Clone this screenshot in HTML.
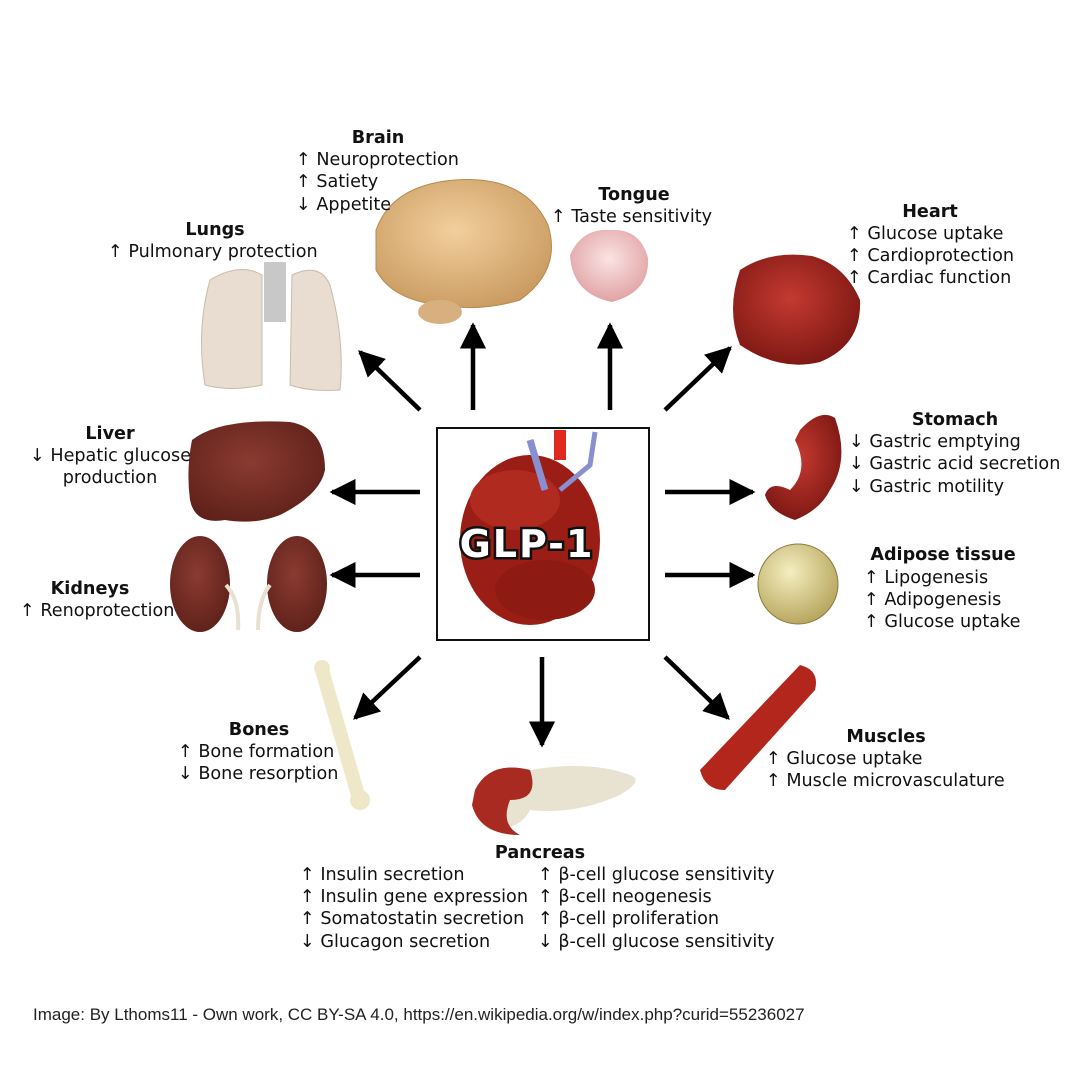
<!DOCTYPE html>
<html><head><meta charset="utf-8"><style>
html,body{margin:0;padding:0;background:#fff;}
svg{display:block}
.t{font-family:"DejaVu Sans",Verdana,sans-serif;font-size:17.6px;fill:#111}
.b{font-weight:bold;text-anchor:middle}
</style></head><body>
<svg width="1080" height="1080" viewBox="0 0 1080 1080" xmlns="http://www.w3.org/2000/svg">
<defs>
<marker id="ah" viewBox="0 0 10 10" refX="9" refY="5" markerWidth="5.8" markerHeight="5.8" orient="auto"><path d="M0,0 L10,5 L0,10 z" fill="#000"/></marker>
<radialGradient id="red" cx="45%" cy="40%" r="65%"><stop offset="0" stop-color="#c43a30"/><stop offset="1" stop-color="#7a1612"/></radialGradient>
<radialGradient id="liv" cx="45%" cy="40%" r="70%"><stop offset="0" stop-color="#8a3b30"/><stop offset="1" stop-color="#5a1e18"/></radialGradient>
<radialGradient id="fat" cx="40%" cy="35%" r="65%"><stop offset="0" stop-color="#f4eec0"/><stop offset="1" stop-color="#b9a860"/></radialGradient>
<radialGradient id="brn" cx="45%" cy="40%" r="65%"><stop offset="0" stop-color="#f2cf9c"/><stop offset="1" stop-color="#c99a60"/></radialGradient>
<radialGradient id="tng" cx="50%" cy="40%" r="60%"><stop offset="0" stop-color="#fbe3e3"/><stop offset="1" stop-color="#e0a2a4"/></radialGradient>
</defs>

<rect x="437" y="428" width="212" height="212" fill="#fff" stroke="#111" stroke-width="2"/>
<ellipse cx="530" cy="540" rx="70" ry="85" fill="#9b1e16"/>
<ellipse cx="515" cy="500" rx="45" ry="30" fill="#b12a20"/>
<ellipse cx="545" cy="590" rx="50" ry="30" fill="#8e1a14"/>
<path d="M530 440 L545 490" stroke="#8890d0" stroke-width="7"/>
<path d="M595 432 L590 465 L560 490" stroke="#8890d0" stroke-width="5" fill="none"/>
<rect x="554" y="430" width="12" height="30" fill="#e02a20"/>
<text x="527" y="557" font-family="DejaVu Sans,sans-serif" font-size="38" font-weight="bold" text-anchor="middle" fill="#fff" stroke="#111" stroke-width="5" paint-order="stroke" letter-spacing="2">GLP-1</text>

<g stroke="#000" stroke-width="4.5" marker-end="url(#ah)">
<line x1="420" y1="410" x2="360" y2="352"/>
<line x1="473" y1="410" x2="473" y2="325"/>
<line x1="610" y1="410" x2="610" y2="325"/>
<line x1="665" y1="410" x2="730" y2="348"/>
<line x1="420" y1="492" x2="332" y2="492"/>
<line x1="420" y1="575" x2="332" y2="575"/>
<line x1="665" y1="492" x2="753" y2="492"/>
<line x1="665" y1="575" x2="753" y2="575"/>
<line x1="420" y1="657" x2="355" y2="718"/>
<line x1="542" y1="657" x2="542" y2="745"/>
<line x1="665" y1="657" x2="728" y2="718"/>
</g>

<path d="M210 280 Q240 262 262 275 L262 385 Q230 392 205 385 Q196 330 210 280z" fill="#e8ddd0" stroke="#c9bba8"/>
<path d="M292 275 Q320 262 330 285 Q345 340 340 390 Q310 392 290 385z" fill="#e8ddd0" stroke="#c9bba8"/>
<rect x="264" y="262" width="22" height="60" fill="#c8c8c8"/>
<path d="M376 230 Q392 185 455 180 Q525 175 548 225 Q562 270 520 300 Q480 312 440 305 Q392 300 376 270z" fill="url(#brn)" stroke="#b88a50"/>
<ellipse cx="440" cy="312" rx="22" ry="12" fill="#d8b080"/>
<path d="M570 255 Q582 228 610 230 Q640 228 648 258 Q650 292 612 302 Q572 294 570 255z" fill="url(#tng)"/>
<path d="M740 270 Q770 250 812 256 Q845 265 860 300 Q862 345 820 362 Q780 372 740 345 Q726 310 740 270z" fill="url(#red)"/>
<path d="M192 440 Q220 418 290 422 Q325 428 325 470 Q320 495 280 515 Q255 525 225 520 Q195 525 190 500 Q186 470 192 440z" fill="url(#liv)"/>
<ellipse cx="200" cy="584" rx="30" ry="48" fill="url(#liv)"/>
<ellipse cx="297" cy="584" rx="30" ry="48" fill="url(#liv)"/>
<path d="M226 585 Q240 600 238 630 M270 585 Q258 600 258 630" stroke="#e8e0d0" stroke-width="4" fill="none"/>
<path d="M800 430 Q820 408 835 418 Q850 460 830 490 Q820 510 795 520 Q770 512 765 495 Q770 480 790 490 Q810 470 795 440z" fill="url(#red)"/>
<circle cx="798" cy="584" r="40" fill="url(#fat)" stroke="#8a7a40"/>
<path d="M322 670 L358 795" stroke="#eee8c8" stroke-width="14" stroke-linecap="round"/>
<circle cx="322" cy="668" r="8" fill="#eee8c8"/><circle cx="360" cy="800" r="10" fill="#eee8c8"/>
<path d="M700 770 L800 665 Q820 670 815 690 L725 790 Q705 790 700 770z" fill="#b3261c"/>
<path d="M475 790 Q490 760 530 770 Q590 760 630 775 Q645 780 620 795 Q575 815 530 810 Q520 830 490 830 Q468 815 475 790z" fill="#e8e2d0"/>
<path d="M475 790 Q490 760 530 770 Q540 800 510 800 Q500 825 520 835 Q480 835 472 805z" fill="#a82a20"/>

<g class="t">
<text class="b" x="378" y="143">Brain</text>
<text x="296" y="165">↑ Neuroprotection</text>
<text x="296" y="187">↑ Satiety</text>
<text x="296" y="210">↓ Appetite</text>
<text class="b" x="215" y="235">Lungs</text>
<text x="108" y="257">↑ Pulmonary protection</text>
<text class="b" x="634" y="200">Tongue</text>
<text x="551" y="222">↑ Taste sensitivity</text>
<text class="b" x="930" y="217">Heart</text>
<text x="847" y="239">↑ Glucose uptake</text>
<text x="847" y="261">↑ Cardioprotection</text>
<text x="847" y="283">↑ Cardiac function</text>
<text class="b" x="955" y="425">Stomach</text>
<text x="849" y="447">↓ Gastric emptying</text>
<text x="849" y="469">↓ Gastric acid secretion</text>
<text x="849" y="492">↓ Gastric motility</text>
<text class="b" x="943" y="560">Adipose tissue</text>
<text x="864" y="583">↑ Lipogenesis</text>
<text x="864" y="605">↑ Adipogenesis</text>
<text x="864" y="627">↑ Glucose uptake</text>
<text class="b" x="110" y="439">Liver</text>
<text x="30" y="461">↓ Hepatic glucose</text>
<text x="110" y="483" text-anchor="middle">production</text>
<text class="b" x="90" y="594">Kidneys</text>
<text x="20" y="616">↑ Renoprotection</text>
<text class="b" x="259" y="735">Bones</text>
<text x="178" y="757">↑ Bone formation</text>
<text x="178" y="779">↓ Bone resorption</text>
<text class="b" x="886" y="742">Muscles</text>
<text x="766" y="764">↑ Glucose uptake</text>
<text x="766" y="786">↑ Muscle microvasculature</text>
<text class="b" x="540" y="858">Pancreas</text>
<text x="300" y="880">↑ Insulin secretion</text>
<text x="300" y="902">↑ Insulin gene expression</text>
<text x="300" y="924">↑ Somatostatin secretion</text>
<text x="300" y="947">↓ Glucagon secretion</text>
<text x="538" y="880">↑ β-cell glucose sensitivity</text>
<text x="538" y="902">↑ β-cell neogenesis</text>
<text x="538" y="924">↑ β-cell proliferation</text>
<text x="538" y="947">↓ β-cell glucose sensitivity</text>
</g>
<text x="33" y="1020" font-family="Liberation Sans,sans-serif" font-size="17" fill="#222">Image: By Lthoms11 - Own work, CC BY-SA 4.0, https://en.wikipedia.org/w/index.php?curid=55236027</text>
</svg>
</body></html>
